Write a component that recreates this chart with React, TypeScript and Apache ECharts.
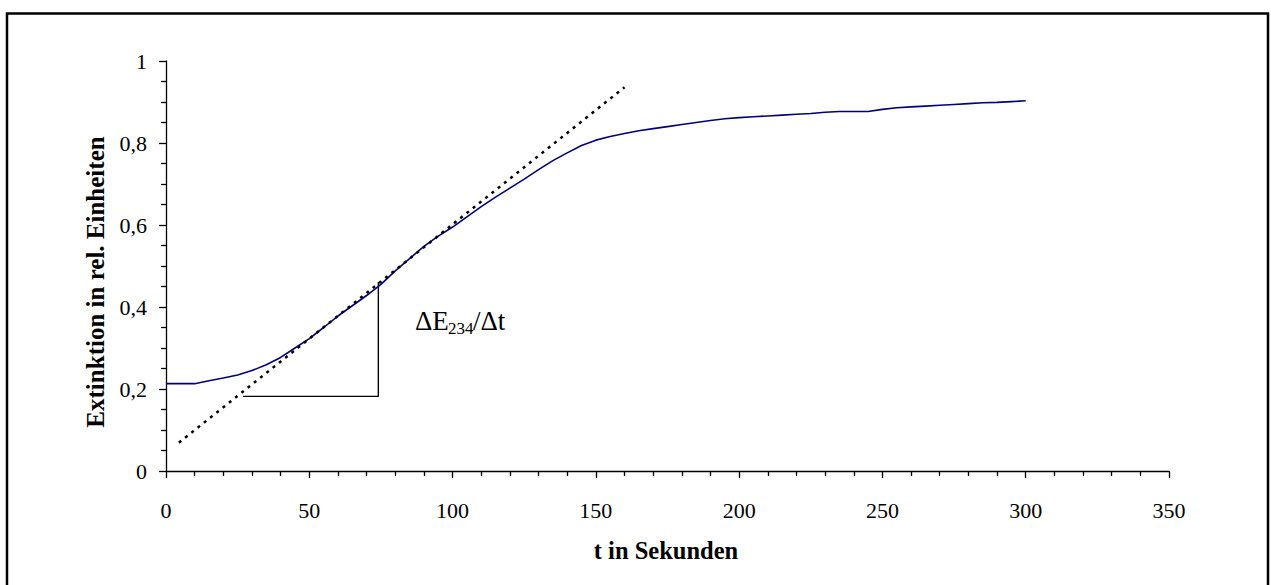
import React, { useEffect, useRef } from "react";
import * as echarts from "echarts";

// Measured curve: time in seconds, extinction in rel. units
const times: number[] = [
  0, 5, 10, 15, 20, 25, 30, 35, 40, 45, 50, 55, 60, 65, 70, 75, 80, 85, 90, 95,
  100, 105, 110, 115, 120, 125, 130, 135, 140, 145, 150, 155, 160, 165, 170, 175,
  180, 185, 190, 195, 200, 205, 210, 215, 220, 225, 230, 235, 240, 245, 250, 255,
  260, 265, 270, 275, 280, 285, 290, 295, 300,
];
const extinction: number[] = [
  0.213, 0.213, 0.213, 0.22, 0.227, 0.234, 0.245, 0.259, 0.277, 0.3, 0.323,
  0.35, 0.378, 0.403, 0.428, 0.455, 0.488, 0.518, 0.548, 0.573, 0.595, 0.62,
  0.645, 0.668, 0.69, 0.712, 0.735, 0.757, 0.776, 0.794, 0.807, 0.816, 0.823,
  0.83, 0.835, 0.84, 0.845, 0.85, 0.855, 0.859, 0.862, 0.864, 0.866, 0.868,
  0.87, 0.872, 0.875, 0.877, 0.877, 0.877, 0.882, 0.886, 0.888, 0.89, 0.892,
  0.894, 0.896, 0.898, 0.899, 0.901, 0.903,
];

// Tangent (dotted) line end points
const tangentT: number[] = [4.5, 160];
const tangentE: number[] = [0.069, 0.936];

// Slope triangle
const triangleT: number[] = [26.9, 74.1, 74.1];
const triangleE: number[] = [0.182, 0.182, 0.461];

const xTicks = { min: 0, max: 350, interval: 50 };
const yTicks = { min: 0, max: 1, interval: 0.2 };

const xTitle = "t in Sekunden";
const yTitle = "Extinktion in rel. Einheiten";

const FONT = "'Liberation Serif', 'Times New Roman', serif";

export default function App() {
  const ref = useRef<HTMLDivElement>(null);

  useEffect(() => {
    if (!ref.current) return;
    const chart = echarts.init(ref.current, undefined, { renderer: "svg" });

    const curve = times.map((t, i) => [t, extinction[i]]);
    const tangent = tangentT.map((t, i) => [t, tangentE[i]]);
    const triangle = triangleT.map((t, i) => [t, triangleE[i]]);

    chart.setOption({
      animation: false,
      backgroundColor: "#fff",
      grid: { left: 166, right: 102, top: 61, bottom: 114 },
      xAxis: {
        type: "value",
        min: xTicks.min,
        max: xTicks.max,
        interval: xTicks.interval,
        axisLine: { show: true, lineStyle: { color: "#000", width: 1.3 } },
        axisTick: { show: true, length: 7, lineStyle: { color: "#000", width: 1.3 } },
        minorTick: { show: true, splitNumber: 5, length: 5, lineStyle: { color: "#000", width: 1.3 } },
        splitLine: { show: false },
        axisLabel: { fontFamily: FONT, fontSize: 22, color: "#000", margin: 28 },
      },
      yAxis: {
        type: "value",
        min: yTicks.min,
        max: yTicks.max,
        interval: yTicks.interval,
        axisLine: { show: true, lineStyle: { color: "#000", width: 1.3 } },
        axisTick: { show: true, length: 7, lineStyle: { color: "#000", width: 1.3 } },
        minorTick: { show: true, splitNumber: 4, length: 5, lineStyle: { color: "#000", width: 1.3 } },
        splitLine: { show: false },
        axisLabel: {
          fontFamily: FONT,
          fontSize: 22,
          color: "#000",
          margin: 19,
          formatter: (v: number) => String(Math.round(v * 10) / 10).replace(".", ","),
        },
      },
      series: [
        {
          type: "line",
          data: curve,
          showSymbol: false,
          symbol: "none",
          lineStyle: { color: "#000080", width: 1.6 },
          z: 3,
        },
        {
          type: "line",
          data: tangent,
          showSymbol: false,
          symbol: "none",
          lineStyle: { color: "#000", width: 2.5, type: [3, 5] },
          z: 4,
        },
        {
          type: "line",
          data: triangle,
          showSymbol: false,
          symbol: "none",
          lineStyle: { color: "#000", width: 1.4 },
          z: 2,
        },
      ],
      graphic: [
        {
          type: "rect",
          shape: { x: 7, y: 13.5, width: 1261, height: 700 },
          style: { fill: "none", stroke: "#000", lineWidth: 2.5 },
          silent: true,
        },
        {
          type: "text",
          x: 666,
          y: 550,
          style: {
            text: xTitle,
            fontFamily: FONT,
            fontWeight: "bold",
            fontSize: 24.5,
            fill: "#000",
            align: "center",
            verticalAlign: "middle",
          },
        },
        {
          type: "text",
          x: 95,
          y: 282,
          rotation: Math.PI / 2,
          style: {
            text: yTitle,
            fontFamily: FONT,
            fontWeight: "bold",
            fontSize: 25,
            fill: "#000",
            align: "center",
            verticalAlign: "middle",
          },
        },
        {
          type: "text",
          x: 415,
          y: 321,
          style: { text: "ΔE", fontFamily: FONT, fontSize: 27, fill: "#000", verticalAlign: "middle" },
        },
        {
          type: "text",
          x: 448,
          y: 328,
          style: { text: "234", fontFamily: FONT, fontSize: 17, fill: "#000", verticalAlign: "middle" },
        },
        {
          type: "text",
          x: 473,
          y: 321,
          style: { text: "/Δt", fontFamily: FONT, fontSize: 27, fill: "#000", verticalAlign: "middle" },
        },
      ],
    });

    return () => chart.dispose();
  }, []);

  return (
    <div
      ref={ref}
      style={{ position: "fixed", left: 0, top: 0, width: 1271, height: 585, background: "#fff" }}
    />
  );
}
